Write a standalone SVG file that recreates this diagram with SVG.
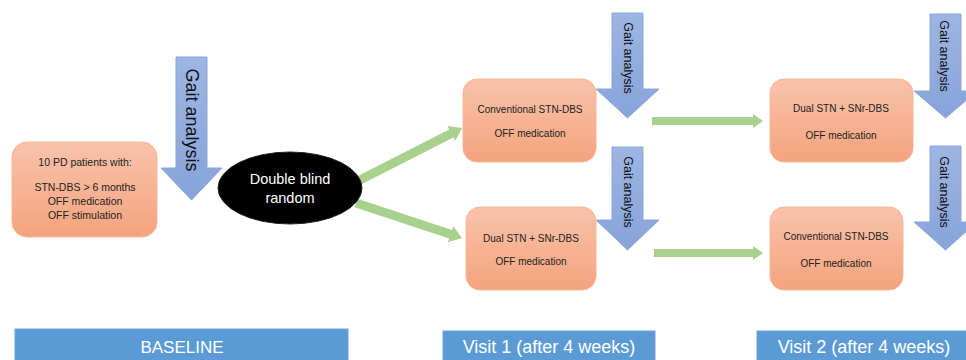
<svg xmlns="http://www.w3.org/2000/svg" width="966" height="360" viewBox="0 0 966 360">
<defs>
<linearGradient id="og" x1="0" y1="0" x2="0" y2="1">
<stop offset="0" stop-color="#F8C3AA"/>
<stop offset="1" stop-color="#F4A37D"/>
</linearGradient>
<linearGradient id="bg" x1="0" y1="0" x2="0" y2="1">
<stop offset="0" stop-color="#9DB5E2"/>
<stop offset="1" stop-color="#87A3D9"/>
</linearGradient>
</defs>
<style>
.box{fill:url(#og);stroke:#F6B796;stroke-width:1}
.t{font-family:"Liberation Sans",Arial,sans-serif;fill:#222;text-anchor:middle}
.s{font-size:10px}
.b{font-size:10.5px}
.gait{fill:url(#bg);stroke:#8CA6DA;stroke-width:1}
.gt{font-family:"Liberation Sans",Arial,sans-serif;fill:#111;text-anchor:middle;dominant-baseline:central}
.green{fill:#A9D18E}
.bar{fill:#5B9BD5;stroke:#6FA5D8;stroke-width:1}
.bt{font-family:"Liberation Sans",Arial,sans-serif;fill:#fff;text-anchor:middle}
</style>
<rect width="966" height="360" fill="#fff"/>

<g id="connectors">
<path class="green" transform="translate(358,181) rotate(-27)" d="M0,-4.5 H104.7 V-8.5 L116.7,0 L104.7,8.5 V4.5 H0 Z"/>
<path class="green" transform="translate(356,203) rotate(18.3)" d="M0,-4.5 H99.6 V-8.5 L111.6,0 L99.6,8.5 V4.5 H0 Z"/>
<path class="green" d="M652,117 H753 V114 L763,121 L753,128 V125 H652 Z"/>
<path class="green" d="M654,249 H753 V246 L763,253 L753,260 V257 H654 Z"/>
</g>

<g id="gait0">
<polygon class="gait" points="176,57 207,57 207,168 222,168 191.5,200 161,168 176,168"/>
<text class="gt" font-size="18" transform="translate(191.5,120) rotate(90)">Gait analysis</text>
</g>
<g id="gait1a">
<polygon class="gait" points="612,13 643,13 643,89 659,89 627.5,118 596,89 612,89"/>
<text class="gt" font-size="12.5" transform="translate(627.5,58) rotate(90)">Gait analysis</text>
</g>
<g id="gait1b">
<polygon class="gait" points="612,147 643,147 643,220 659,220 627.5,250 596,220 612,220"/>
<text class="gt" font-size="12.5" transform="translate(627.5,192) rotate(90)">Gait analysis</text>
</g>
<g id="gait2a">
<polygon class="gait" points="930,14 961,14 961,91 977,91 945.5,118 914,91 930,91"/>
<text class="gt" font-size="12.5" transform="translate(944,56) rotate(90)">Gait analysis</text>
</g>
<g id="gait2b">
<polygon class="gait" points="930,146 961,146 961,222 977,222 945.5,250 914,222 930,222"/>
<text class="gt" font-size="12.5" transform="translate(944,192) rotate(90)">Gait analysis</text>
</g>

<g id="baseline">
<rect class="box" x="12" y="142" width="145" height="95" rx="15"/>
<text class="t b" x="85" y="166">10 PD patients with:</text>
<text class="t b" x="85" y="191">STN-DBS &gt; 6 months</text>
<text class="t b" x="85" y="205">OFF medication</text>
<text class="t b" x="85" y="219">OFF stimulation</text>
</g>

<g id="random">
<ellipse cx="290" cy="188" rx="72" ry="36" fill="#000" stroke="#222"/>
<text class="bt" font-size="14.5" x="290" y="184">Double blind</text>
<text class="bt" font-size="14.5" x="290" y="203">random</text>
</g>

<g id="v1a">
<rect class="box" x="463" y="79" width="133" height="83" rx="14"/>
<text class="t s" x="530" y="113">Conventional STN-DBS</text>
<text class="t s" x="530" y="137">OFF medication</text>
</g>
<g id="v1b">
<rect class="box" x="466" y="207" width="130" height="83" rx="14"/>
<text class="t s" x="531" y="242">Dual STN + SNr-DBS</text>
<text class="t s" x="531" y="265">OFF medication</text>
</g>
<g id="v2a">
<rect class="box" x="770" y="79" width="143" height="83" rx="14"/>
<text class="t s" x="841" y="112">Dual STN + SNr-DBS</text>
<text class="t s" x="841" y="139">OFF medication</text>
</g>
<g id="v2b">
<rect class="box" x="770" y="207" width="133" height="83" rx="14"/>
<text class="t s" x="836" y="240">Conventional STN-DBS</text>
<text class="t s" x="836" y="267">OFF medication</text>
</g>

<g id="bar0">
<rect class="bar" x="15" y="329" width="333" height="35"/>
<text class="bt" font-size="17" x="182" y="353">BASELINE</text>
</g>
<g id="bar1">
<rect class="bar" x="443" y="331" width="212" height="33"/>
<text class="bt" font-size="18" x="549" y="353">Visit 1 (after 4 weeks)</text>
</g>
<g id="bar2">
<rect class="bar" x="757" y="331" width="215" height="33"/>
<text class="bt" font-size="18" x="864" y="353">Visit 2 (after 4 weeks)</text>
</g>
</svg>
